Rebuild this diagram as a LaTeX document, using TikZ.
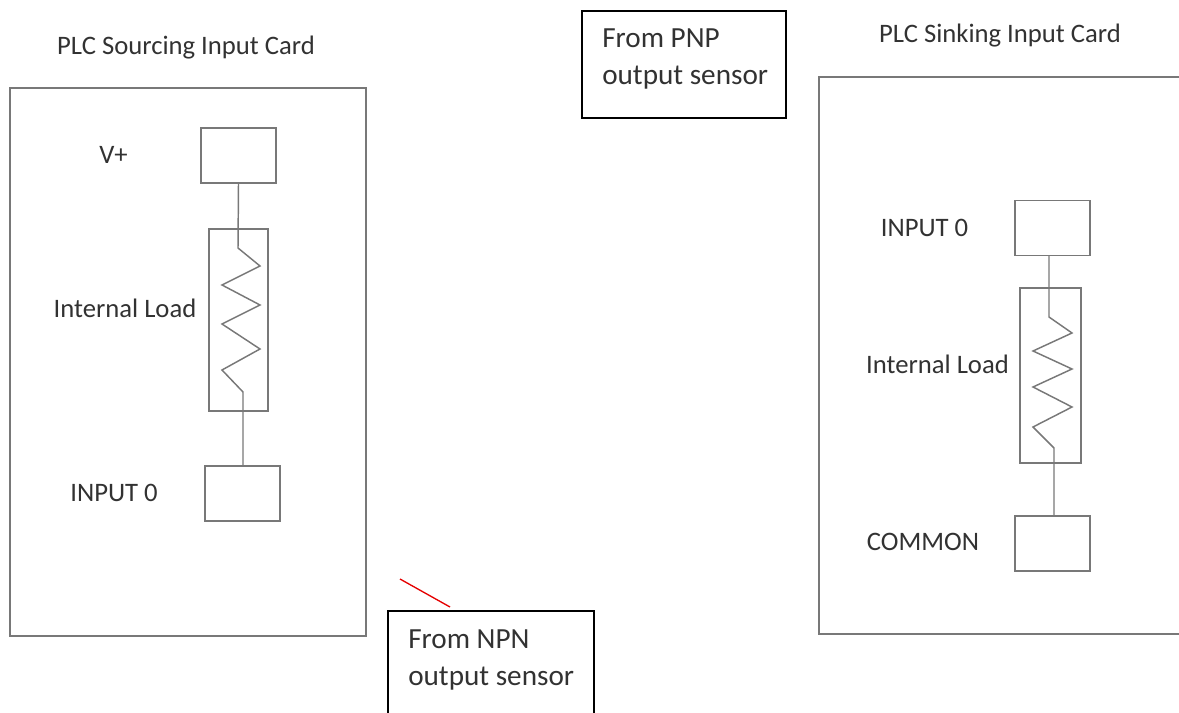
\documentclass[tikz,border=0pt]{standalone}
\usepackage{fontspec}
\setmainfont{Carlito}
\usetikzlibrary{positioning}
\definecolor{wiregray}{RGB}{120,120,120}
\definecolor{textgray}{RGB}{50,50,50}

\begin{document}
\begin{tikzpicture}[
        x=0.75pt, y=-0.75pt,
        card/.style={draw=wiregray, line width=1pt, inner sep=0pt},
        terminal/.style={draw=wiregray, line width=1pt, minimum width=56.25pt, minimum height=41.25pt, inner sep=0pt},
        load/.style={draw=wiregray, line width=1pt, inner sep=0pt},
        sensorbox/.style={draw=black, line width=0.8pt, inner sep=0pt},
        wire/.style={draw=wiregray, line width=1.1pt, line join=miter},
        label/.style={text=textgray, font=\fontsize{20pt}{24pt}\selectfont, inner sep=0pt},
        sensortext/.style={text=textgray, font=\fontsize{21.9pt}{27.5pt}\selectfont, align=left, inner sep=0pt, anchor=west}
    ]
        \useasboundingbox (0,0) rectangle (1179,713);
        \clip (0,0) rectangle (1179,713);

        % Sourcing card
        \node[label] (titleleft) at (186, 48) {PLC Sourcing Input Card};
        \node[card, minimum width=267pt, minimum height=411pt] (cardleft) at (188, 362) {};
        \node[terminal] (vplus) at (238.5, 155.5) {};
        \node[terminal] (inputleft) at (242.5, 493.5) {};
        \node[load, minimum width=44.25pt, minimum height=136.5pt] (loadleft) at (238.5, 320) {};
        \node[label] (vpluslabel) at (113.5, 155) {V+};
        \node[label] (loadlabelleft) at (125, 308) {Internal Load};
        \node[label] (inputlabelleft) at (114, 493) {INPUT 0};

        % Resistor, left
        \coordinate (ra) at (238, 248);
        \coordinate (rb) at (243, 392);
        \draw[wire] (vplus.south) -- (ra) -- (260, 266) -- (222, 285) -- (260, 305)
            -- (222, 324) -- (260, 349) -- (222, 370) -- (rb) -- (rb |- inputleft.north);

        % Sinking card
        \node[label] (titleright) at (1000, 36) {PLC Sinking Input Card};
        \node[card, minimum width=278.25pt, minimum height=417.75pt] (cardright) at (1004.5, 355.5) {};
        \node[terminal] (inputright) at (1052.5, 228) {};
        \node[terminal] (common) at (1052.5, 543.5) {};
        \node[load, minimum width=45.75pt, minimum height=131.25pt] (loadright) at (1050.5, 375.5) {};
        \node[label] (inputlabelright) at (924.5, 228) {INPUT 0};
        \node[label] (loadlabelright) at (937.5, 364) {Internal Load};
        \node[label] (commonlabel) at (923, 542) {COMMON};

        % Resistor, right
        \coordinate (rc) at (1049, 317);
        \coordinate (rd) at (1054, 448);
        \draw[wire] (rc |- inputright.south) -- (rc) -- (1072, 333) -- (1033, 351) -- (1072, 369)
            -- (1033, 387) -- (1072, 407) -- (1033, 427) -- (rd) -- (rd |- common.north);

        % Sensor notes
        \node[sensorbox, minimum width=153pt, minimum height=80.25pt] (pnpbox) at (684, 64.5) {};
        \node[sensortext] (pnptext) at (602, 59) {From PNP\\output sensor};
        \node[sensorbox, minimum width=154.5pt, minimum height=96.75pt] (npnbox) at (491, 675.5) {};
        \node[sensortext] (npntext) at (408, 660) {From NPN\\output sensor};

        % Red stroke
        \coordinate (redstart) at (400, 579);
        \coordinate (redend) at (450, 607);
        \draw[red!90!black, line width=1pt] (redstart) -- (redend);
    \end{tikzpicture}
\end{document}
